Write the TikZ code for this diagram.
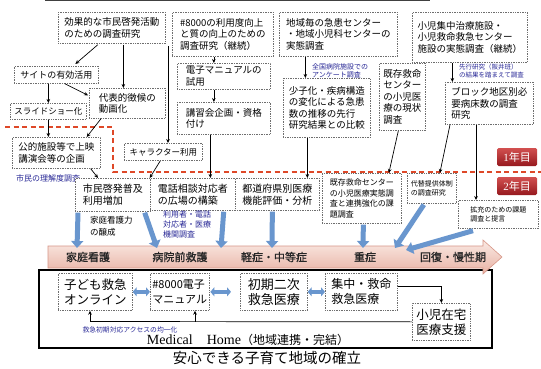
\documentclass[tikz,border=0pt]{standalone}
\usepackage{fontspec}
\setmainfont{Liberation Serif}
\newfontfamily\jp{Noto Sans CJK JP}
\newfontfamily\jpb[FakeBold=1.2]{Noto Sans CJK JP}
\usetikzlibrary{arrows.meta,calc}
\definecolor{dotgray}{RGB}{110,110,110}
\definecolor{dashred}{RGB}{222,72,40}
\definecolor{txtblue}{RGB}{40,40,150}
\definecolor{fatblue}{RGB}{105,150,206}
\definecolor{bandtop}{RGB}{250,234,228}
\definecolor{bandbot}{RGB}{232,178,164}
\definecolor{bandedge}{RGB}{215,150,135}
\definecolor{yrtop}{RGB}{210,80,80}
\definecolor{yrbot}{RGB}{150,25,30}
\begin{document}
\begin{tikzpicture}[x=1pt,y=-1pt,
  box/.style={draw=dotgray, densely dotted, line width=0.7pt, fill=white, align=left,
    inner sep=2.5pt, anchor=north west, font=\jp\fontsize{9.5}{11.5}\selectfont},
  bluetxt/.style={text=txtblue, align=left, inner sep=0pt, anchor=north west,
    font=\jp\fontsize{6.5}{8}\selectfont},
  plaintxt/.style={text=black, align=left, inner sep=0pt, anchor=north west,
    font=\jp\fontsize{8.5}{12}\selectfont},
  arr/.style={-{Stealth[length=4pt,width=3.6pt]}, line width=0.7pt, black},
  fat/.style={line width=5pt, draw=fatblue, -{Triangle[length=7pt,width=12pt]}},
  dbl/.style={line width=4pt, draw=fatblue, {Triangle[length=4pt,width=9pt]}-{Triangle[length=4pt,width=9pt]}},
  yr/.style={minimum width=40pt, minimum height=18pt, inner sep=0pt, rounded corners=1.5pt,
    top color=yrtop, bottom color=yrbot, text=white, font=\fontsize{11}{12}\selectfont},
  bandlab/.style={font=\jpb\fontsize{11}{12}\selectfont, text=black!85, inner sep=0pt},
  bigbox/.style={box, inner sep=2pt, minimum height=37pt, font=\jp\fontsize{12.5}{15}\selectfont}
]
\useasboundingbox (0,0) rectangle (541,369);
\fill[white] (0,0) rectangle (541,369);
\fill[black!75] (45,0) rectangle (430,1.5);

% year boundary
\draw[dashred, line width=1.6pt, dash pattern=on 5pt off 3.5pt] (5,127) -- (113,127) -- (113,172) -- (541,172);

% ---------- year 1 ----------
\node[box, minimum width=107pt, minimum height=31pt] (b1) at (58,12) {効果的な市民啓発活動\\のための調査研究};
\node[box, minimum width=101pt, minimum height=44pt] (b2) at (172,12) {\#8000の利用度向上\\と質の向上のための\\調査研究（継続）};
\node[box, minimum width=118pt, minimum height=44pt] (b3) at (279,12) {地域毎の急患センター\\・地域小児科センターの\\実態調査};
\node[box, minimum width=115pt, minimum height=50pt] (b4) at (412,12) {小児集中治療施設・\\小児救命救急センター\\施設の実態調査（継続）};

\node[box, font=\jp\fontsize{9}{11}\selectfont, minimum width=84pt, minimum height=17pt] (sa) at (14,66) {サイトの有効活用};
\node[box, minimum width=76pt, minimum height=30pt] (dh) at (89,88) {代表的徴候の\\動画化};
\node[box, font=\jp\fontsize{8.5}{10}\selectfont, minimum width=76pt, minimum height=16pt] (ss) at (10,103) {スライドショー化};
\node[box, minimum width=88pt, minimum height=31pt] (kt) at (12,137) {公的施設等で上映\\講演会等の企画};
\node[bluetxt, font=\jp\fontsize{8}{9}\selectfont, anchor=west] (ri) at (16,178) {市民の理解度調査};

\node[box, minimum width=93pt, minimum height=26pt] (em) at (177,63) {電子マニュアルの\\試用};
\node[box, minimum width=93pt, minimum height=32pt] (ks) at (177,102) {講習会企画・資格\\付け};
\node[box, font=\jp\fontsize{8.5}{10}\selectfont, minimum width=78pt, minimum height=17pt] (ch) at (124,143) {キャラクター利用};

\node[bluetxt, font=\jp\fontsize{7}{8.5}\selectfont] (an) at (312,63) {全国病院施設での\\アンケート調査};
\node[box, minimum width=87pt, minimum height=59pt] (sk) at (283,78) {少子化・疾病構造\\の変化による急患\\数の推移の先行\\研究結果との比較};
\node[box, minimum width=46pt, minimum height=67pt] (kz) at (379,63) {既存救命\\センター\\の小児医\\療の現状\\調査};
\node[bluetxt] (sr) at (459,64) {先行研究（阪井班）\\の結果を踏まえて調査};
\node[box, minimum width=88pt, minimum height=42pt] (bl) at (445,82) {ブロック地区別必\\要病床数の調査\\研究};

% ---------- year 2 ----------
\node[box, font=\jp\fontsize{10}{12}\selectfont, minimum width=75pt, minimum height=33pt] (sm) at (75,178) {市民啓発普及\\利用増加};
\node[box, font=\jp\fontsize{10}{12}\selectfont, minimum width=85pt, minimum height=32pt] (dw) at (150,178) {電話相談対応者\\の広場の構築};
\node[box, font=\jp\fontsize{10}{12}\selectfont, minimum width=84pt, minimum height=32pt] (td) at (235,178) {都道府県別医療\\機能評価・分析};
\node[box, font=\jp\fontsize{8}{10.5}\selectfont, minimum width=79pt, minimum height=50pt] (kc) at (322,173) {既存救命センター\\の小児医療実態調\\査と連携強化の課\\題調査};
\node[box, font=\jp\fontsize{7}{9.5}\selectfont, minimum width=49pt, minimum height=30pt] (dt) at (407,173) {代替提供体制\\の調査研究};
\node[box, font=\jp\fontsize{7}{9.5}\selectfont, minimum width=80pt, minimum height=28pt] (kj) at (458,200) {拡充のための課題\\調査と提言};

\node[plaintxt] (kk) at (90,216) {家庭看護力\\の醸成};
\node[bluetxt, font=\jp\fontsize{8}{10}\selectfont] (ry) at (163,211) {利用者・電話\\対応者・医療\\機関調査};

\node[yr] (y1) at (517,157) {1{\jp 年目}};
\node[yr] (y2) at (517,186) {2{\jp 年目}};

% ---------- year 1 connectors ----------
\draw[arr] ($(b1.south)+(-14,1)$) -- ($(sa.north)+(19,-2)$);
\draw[arr] ($(b1.south)+(11.5,1)$) -- ($(dh.north)+(-4,0)$);
\draw[arr] (sa.south -| ss.north) -- (ss.north);
\draw[arr] ($(sa.south east)+(-34,0)$) -- ($(dh.west)+(-1,-8)$);
\draw[arr] (ss.south) -- (ss.south |- kt.north);
\draw[arr] ($(dh.south west)+(12,0)$) -- ($(kt.north east)+(-14,0)$);
\draw[arr] ($(kt.south east)+(-10,0)$) -- ($(sm.north west)+(23,0)$);
\coordinate (vt) at (168,46);
\draw[arr] (vt) -- (vt |- ch.north);
\draw[arr] ($(ch.south)+(-3,0)$) -- ($(sm.north east)+(-1,0)$);
\draw[arr] ($(b2.south)+(-9,0)$) -- ($(em.north)+(-10,0)$);
\draw[arr] ($(em.south)+(-10,0)$) -- ($(ks.north)+(-10,0)$);
\draw[arr] ($(ks.south)+(-13.5,0)$) -- ($(dw.north)+(17.5,0)$);
\draw[arr] ($(b3.south)+(-33,0)$) -- ($(sk.north)+(-21.5,0)$);
\draw[arr] ($(sk.south)+(-19.5,0)$) -- ($(td.north)+(30,0)$);
\draw[arr] ($(kz.south)+(-4,0)$) -- ($(kc.north)+(27,0)$);
\draw[arr] ($(b4.south)+(-17.5,0)$) -- ($(bl.north)+(-37,0)$);
\draw[arr] ($(bl.south west)+(5,0)$) -- ($(dt.north)+(8,0)$);
\draw[arr] ($(bl.south west)+(31,0)$) -- ($(kj.north west)+(18,0)$);

% ---------- frame & band ----------
\draw[line width=1.8pt] (39,270) rectangle (492,348);
\shade[top color=bandtop, bottom color=bandbot] (48,246) -- (483,246) -- (483,240) -- (502,257) -- (483,274) -- (483,268) -- (48,268) -- cycle;
\draw[bandedge, line width=0.6pt] (48,246) -- (483,246) -- (483,240) -- (502,257) -- (483,274) -- (483,268) -- (48,268) -- cycle;
\node[bandlab] (l1) at (88,257) {家庭看護};
\node[bandlab] (l2) at (180,257) {病院前救護};
\node[bandlab] (l3) at (274,257) {軽症・中等症};
\node[bandlab] (l4) at (365,257) {重症};
\node[bandlab] (l5) at (453,257) {回復・慢性期};

\coordinate (t1) at (77,248);
\coordinate (t2) at (157,248);
\coordinate (t3) at (221,248);
\coordinate (t4) at (272,248);
\coordinate (t5) at (363,248);
\coordinate (t6) at (395,248);
\coordinate (t7) at (406,250);
\draw[fat] ($(sm.south west)+(3,1)$) -- (t1);
\draw[fat] ($(sm.south east)+(-6,1)$) -- (t2);
\draw[fat] ($(dw.south east)+(-12,1)$) -- (t3);
\draw[fat] ($(td.south)+(-5,1)$) -- (t4);
\draw[fat] ($(kc.south)+(1.5,1)$) -- (t5);
\draw[fat] ($(dt.south)+(-8,1)$) -- (t6);
\draw[fat] ($(kj.south west)+(15,2)$) -- (t7);

% ---------- bottom boxes ----------
\node[bigbox, minimum width=74pt] (c1) at (58,273) {子ども救急\\オンライン};
\node[bigbox, font=\jp\fontsize{11}{15}\selectfont, minimum width=58pt] (c2) at (150,273) {\#8000電子\\マニュアル};
\node[bigbox, font=\jp\fontsize{13}{15}\selectfont, minimum width=67pt] (c3) at (240,273) {初期二次\\救急医療};
\node[bigbox, font=\jp\fontsize{12}{15}\selectfont, minimum width=72pt] (c4) at (325,273) {集中・救命\\救急医療};
\node[bigbox, minimum width=58pt] (c5) at (412,303) {小児在宅\\医療支援};

\draw[dbl] (c1.east) -- (c2.west);
\draw[dbl, shorten >=9pt, shorten <=1pt] (c2.east) -- (c3.west);
\draw[dbl] (c3.east) -- (c4.west);
\draw[arr] ($(c4.east)+(0,-6)$) -| (c5.north);
\coordinate (j1) at (90,321.5);
\coordinate (j2) at (195,321.5);
\draw[line width=0.7pt] (c5.west) -- (j1);
\draw[arr] (j1) -- (j1 |- c1.south);
\draw[arr] (j2) -- (j2 |- c2.south);

\node[bluetxt, font=\jp\fontsize{6.8}{8}\selectfont, anchor=center] (ak) at (130,330) {救急初期対応アクセスの均一化};
\node[inner sep=0pt] (mh) at (248,340) {\fontsize{14}{15}\selectfont Medical\quad Home{\jp\fontsize{12}{15}\selectfont （地域連携・完結）}};
\node[inner sep=0pt] (ans) at (267,358) {\jp\fontsize{14.5}{16}\selectfont 安心できる子育て地域の確立};
\end{tikzpicture}
\end{document}
